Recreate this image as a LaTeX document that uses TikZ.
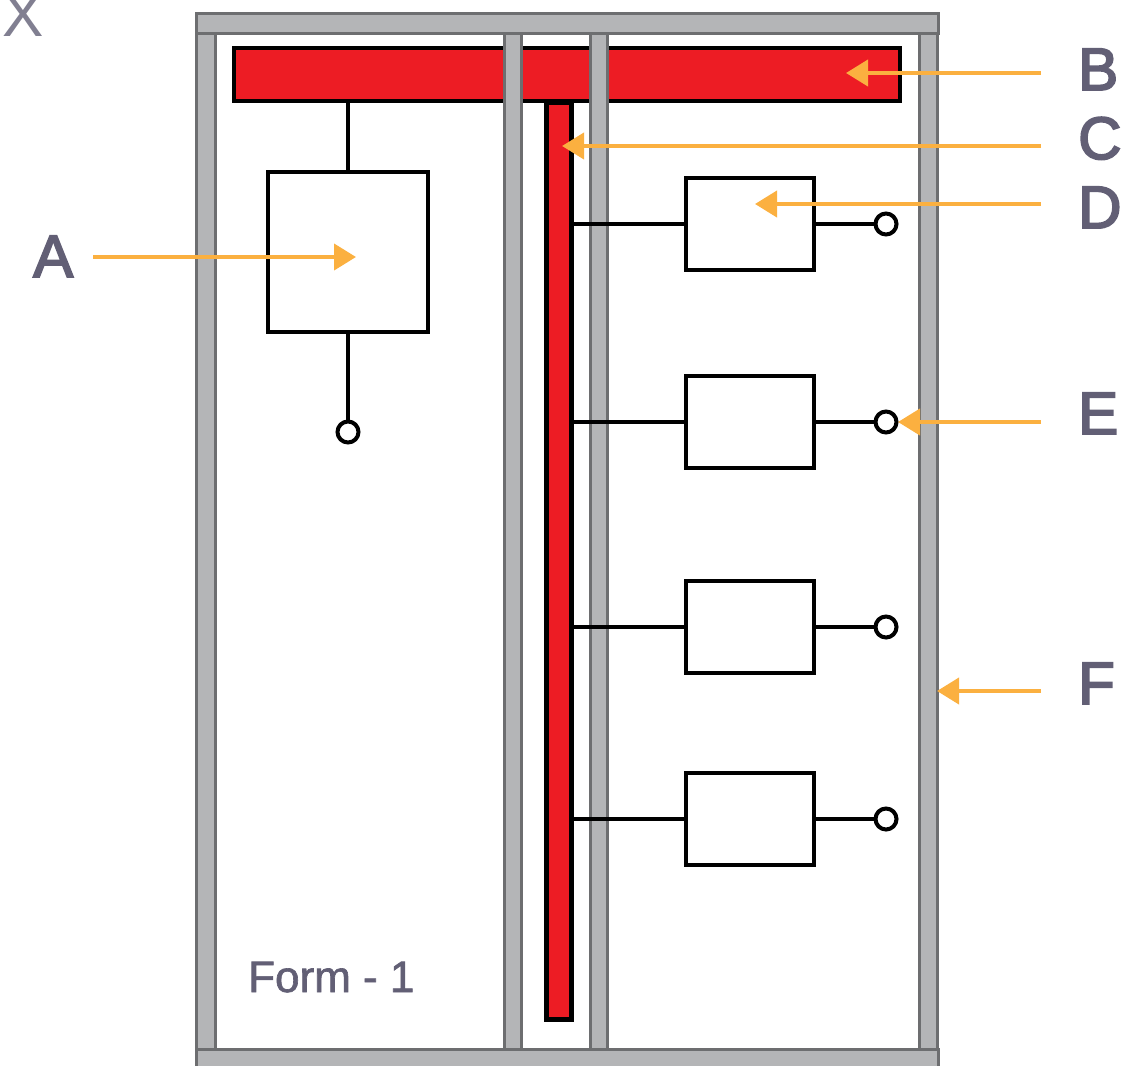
\documentclass[tikz,border=0pt]{standalone}
\usepackage{fontspec}
\usepackage{xcolor}
\setmainfont{Liberation Sans}
\newfontfamily\letterfont[FakeBold=3]{Liberation Sans}
\newfontfamily\formfont[FakeBold=1.5]{Liberation Sans}
\definecolor{postfill}{HTML}{B4B5B7}
\definecolor{postline}{HTML}{6D6E70}
\definecolor{busred}{HTML}{ED1C24}
\definecolor{pointerorange}{HTML}{FBB040}
\definecolor{labelgrey}{HTML}{625F75}
\usetikzlibrary{arrows.meta}
\tikzset{
    post/.style={draw=postline, fill=postfill, line width=3pt, inner sep=0pt},
    bus/.style={draw=black, fill=busred, line width=4.5pt, inner sep=0pt},
    unitbox/.style={draw=black, fill=white, line width=4pt, inner sep=0pt},
    terminal/.style={circle, draw=black, fill=white, line width=4pt, inner sep=0pt, minimum size=21pt},
    feeder/.style={draw=black, line width=3.5pt},
    pointer/.style={draw=pointerorange, line width=4pt, -{Triangle[length=22pt,width=26pt]}},
    letter/.style={anchor=base west, inner sep=0pt, text=labelgrey, font=\fontsize{60}{60}\letterfont},
}
\begin{document}
\begin{tikzpicture}[x=1pt, y=-1pt]
    \useasboundingbox (0, 0) rectangle (1147, 1065);

    % corner text, cut off by the page
    \node[anchor=base west, inner sep=0pt, text=labelgrey!80, font=\fontsize{62}{62}\selectfont] (cutoff) at (2.5, 37) {X};

    % busbars
    \node[bus, minimum width=666pt, minimum height=53pt] (busMain) at (567, 74.5) {};
    \node[bus, minimum width=25pt, minimum height=917pt] (busDrop) at (559, 561) {};

    % frame
    \node[post, minimum width=19pt, minimum height=1040pt] (postA) at (205.5, 545) {};
    \node[post, minimum width=17pt, minimum height=1040pt] (postB) at (513, 545) {};
    \node[post, minimum width=17pt, minimum height=1040pt] (postC) at (598.5, 545) {};
    \node[post, minimum width=18pt, minimum height=1040pt] (postD) at (928.5, 545) {};
    \node[post, minimum width=742pt, minimum height=20pt] (railTop) at (567, 23.5) {};
    \node[post, minimum width=742pt, minimum height=20pt] (railBottom) at (567, 1059) {};

    % incoming unit
    \node[unitbox, minimum width=160pt, minimum height=160pt] (unitMain) at (348, 252) {};
    \node[terminal] (termMain) at (348, 432) {};
    \draw[feeder] (busMain.south -| unitMain.north) -- (unitMain.north);
    \draw[feeder] (unitMain.south) -- (termMain.north);

    % outgoing units
    \foreach \name/\ypos in {One/224, Two/422, Three/627, Four/819} {
        \node[unitbox, minimum width=128pt, minimum height=92pt] (unit\name) at (750, \ypos) {};
        \node[terminal] (term\name) at (886, \ypos) {};
        \draw[feeder] (busDrop.east |- unit\name.west) -- (unit\name.west);
        \draw[feeder] (unit\name.east) -- (term\name.west);
    }

    \node[anchor=base west, inner sep=0pt, text=labelgrey, font=\fontsize{44}{44}\formfont] (formLabel) at (248, 992) {Form - 1};

    % letters
    \node[letter] (letterA) at (33, 277) {A};
    \node[letter] (letterB) at (1078, 90) {B};
    \node[letter] (letterC) at (1078, 159) {C};
    \node[letter] (letterD) at (1078, 228) {D};
    \node[letter] (letterE) at (1078, 434) {E};
    \node[letter] (letterF) at (1078, 704) {F};

    % pointers
    \coordinate (tailA) at (93, 257);
    \coordinate (tipA) at (356, 257);
    \coordinate (tailB) at (1041, 73);
    \coordinate (tipB) at (846, 73);
    \coordinate (tailC) at (1041, 146);
    \coordinate (tipC) at (562, 146);
    \coordinate (tailD) at (1041, 204);
    \coordinate (tipD) at (755, 204);
    \coordinate (tailE) at (1041, 422);
    \coordinate (tipE) at (898, 422);
    \coordinate (tailF) at (1041, 691);
    \coordinate (tipF) at (937, 691);
    \foreach \tag in {A, B, C, D, E, F} {
        \draw[pointer] (tail\tag) -- (tip\tag);
    }
\end{tikzpicture}
\end{document}
